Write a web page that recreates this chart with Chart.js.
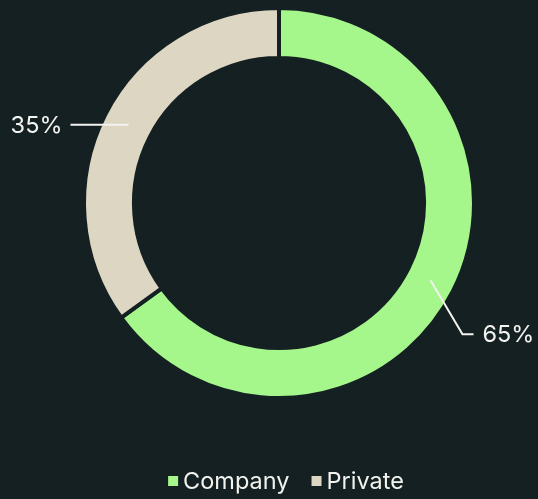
<!DOCTYPE html>
<html>
<head>
<meta charset="utf-8">
<script src="https://cdn.jsdelivr.net/npm/chart.js@4"></script>
<style>
  html, body { margin: 0; padding: 0; background: #142022; }
  #wrap { width: 538px; height: 499px; position: relative; }
</style>
</head>
<body>
<div id="wrap"><canvas id="chart" width="538" height="499"></canvas></div>
<script>
// Data
const categories = ['Company', 'Private'];
const shares = [65, 35];
const shareLabels = ['65%', '35%'];
const sliceColors = ['#a6f78b', '#ddd6c3'];

const bgColor = '#142022';
const textColor = '#f2f2ee';
const fontFamily = 'Inter, "Noto Sans", sans-serif';

// Leader lines: elbow offset from mid-ring point, then horizontal tail
const leaderStyle = [
    { elbow: [32, 54], tail: 11, gap: 9 },
    { elbow: [0, -1], tail: -57, gap: 8 }
];

const leaderPlugin = {
    id: 'leaders',
    afterDatasetsDraw(chart) {
        const ctx = chart.ctx;
        const meta = chart.getDatasetMeta(0);
        ctx.save();
        ctx.strokeStyle = textColor;
        ctx.lineWidth = 2;
        ctx.fillStyle = textColor;
        ctx.font = '23.5px ' + fontFamily;
        ctx.textBaseline = 'middle';
        meta.data.forEach((arc, i) => {
            const p = arc.getProps(['x', 'y', 'startAngle', 'endAngle', 'innerRadius', 'outerRadius'], true);
            const mid = (p.startAngle + p.endAngle) / 2;
            const r = (p.innerRadius + p.outerRadius) / 2;
            const x0 = p.x + Math.cos(mid) * r;
            const y0 = p.y + Math.sin(mid) * r;
            const s = leaderStyle[i];
            const x1 = x0 + s.elbow[0];
            const y1 = y0 + s.elbow[1];
            const x2 = x1 + s.tail;
            ctx.beginPath();
            ctx.moveTo(x0, y0);
            ctx.lineTo(x1, y1);
            ctx.lineTo(x2, y1);
            ctx.stroke();
            if (s.tail > 0) {
                ctx.textAlign = 'left';
                ctx.fillText(shareLabels[i], x2 + s.gap, y1 + 1);
            } else {
                ctx.textAlign = 'right';
                ctx.fillText(shareLabels[i], x2 - s.gap, y1 + 1);
            }
        });
        ctx.restore();
    }
};

// Simple legend at the bottom
const legendPlugin = {
    id: 'bottomLegend',
    afterDraw(chart) {
        const ctx = chart.ctx;
        ctx.save();
        ctx.font = '23.5px ' + fontFamily;
        ctx.textBaseline = 'middle';
        ctx.textAlign = 'left';
        const box = 10, boxGap = 5, itemGap = 22;
        const widths = categories.map(c => box + boxGap + ctx.measureText(c).width);
        const total = widths.reduce((a, b) => a + b, 0) + itemGap * (categories.length - 1);
        let x = 286 - total / 2;
        const y = 482;
        categories.forEach((c, i) => {
            ctx.fillStyle = sliceColors[i];
            ctx.fillRect(x, y - 6, box, box);
            ctx.fillStyle = textColor;
            ctx.fillText(c, x + box + boxGap, y);
            x += widths[i] + itemGap;
        });
        ctx.restore();
    }
};

new Chart(document.getElementById('chart'), {
    type: 'doughnut',
    data: {
        labels: categories,
        datasets: [{
            data: shares,
            backgroundColor: sliceColors,
            borderColor: bgColor,
            borderWidth: 4,
            hoverOffset: 0
        }]
    },
    options: {
        responsive: false,
        animation: false,
        cutout: '74.4%',
        layout: { padding: { top: 6, bottom: 99, left: 20, right: 0 } },
        plugins: {
            legend: { display: false },
            tooltip: { enabled: false }
        }
    },
    plugins: [leaderPlugin, legendPlugin]
});
</script>
</body>
</html>
